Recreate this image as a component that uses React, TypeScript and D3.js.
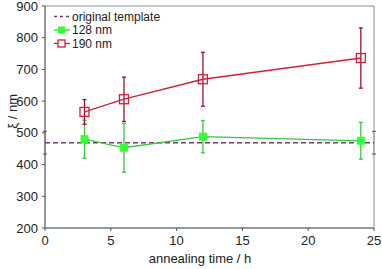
import React from 'react';
import * as d3 from 'd3';

// annealing time (h)
const times = [3, 6, 12, 24];
const mean128 = [480, 453, 488, 475];
const err128 = [60, 77, 51, 58];
const mean190 = [566, 606, 669, 736];
const err190 = [39, 70, 85, 95];
const templateMean = 469;
const templateErr = 36;

const xTicks = [0, 5, 10, 15, 20, 25];
const yTicks = [200, 300, 400, 500, 600, 700, 800, 900];

const W = 382;
const H = 269;
const margin = { top: 6, right: 8, bottom: 41, left: 45 };

const green = '#39c83c';
const greenFill = '#33ff33';
const red = '#d0203c';
const redDark = '#a0102c';
const purple = '#7a3a70';
const font = 'Liberation Sans, Arial, sans-serif';

const App = () => {
  const x = d3.scaleLinear().domain([0, 25]).range([margin.left, W - margin.right]);
  const y = d3.scaleLinear().domain([200, 900]).range([H - margin.bottom, margin.top]);
  const line = d3.line<[number, number]>().x((d) => x(d[0])).y((d) => y(d[1]));

  const errBars = (means: number[], errs: number[], color: string) =>
    times.map((t, i) => {
      const cx = x(t);
      const top = y(means[i] + errs[i]);
      const bot = y(means[i] - errs[i]);
      return (
        <g key={i} stroke={color} strokeWidth={1.3}>
          <line x1={cx} x2={cx} y1={top} y2={bot} />
          <line x1={cx - 2} x2={cx + 2} y1={top} y2={top} />
          <line x1={cx - 2} x2={cx + 2} y1={bot} y2={bot} />
        </g>
      );
    });

  const [x0, x1] = x.range();
  const [y0, y1] = y.range();

  const legendRows = [
    { label: 'original template', y: 16.5 },
    { label: '128 nm', y: 30 },
    { label: '190 nm', y: 43.5 },
  ];

  return (
    <svg width={W} height={H} style={{ position: 'absolute', left: 0, top: 0, background: '#fff' }} fontFamily={font}>
      {/* frame */}
      <rect x={x0} y={y1} width={x1 - x0} height={y0 - y1} fill="none" stroke="#9aa8a8" strokeWidth={1.2} />
      <line x1={x0} x2={x0} y1={y1} y2={y0} stroke="#7f8c8c" strokeWidth={1.5} />
      <line x1={x0} x2={x1} y1={y0} y2={y0} stroke="#7f8c8c" strokeWidth={1.5} />

      {/* ticks */}
      {yTicks.map((v) => (
        <g key={v}>
          <line x1={x0 - 3} x2={x0} y1={y(v)} y2={y(v)} stroke="#555" />
          <text x={x0 - 7} y={y(v)} dy="0.35em" textAnchor="end" fontSize={13} fill="#222">{v}</text>
        </g>
      ))}
      {xTicks.map((v) => (
        <g key={v}>
          <line x1={x(v)} x2={x(v)} y1={y0} y2={y0 + 3} stroke="#555" />
          <text x={x(v)} y={y0 + 17} textAnchor="middle" fontSize={13} fill="#222">{v}</text>
        </g>
      ))}

      <text x={200} y={H - 6} textAnchor="middle" fontSize={13} fill="#222">annealing time / h</text>
      <text transform={`translate(17, ${y(568)}) rotate(-90)`} textAnchor="middle" fontSize={13} fill="#222">ξ / nm</text>

      {/* original template */}
      <line x1={x0} x2={x1} y1={y(templateMean)} y2={y(templateMean)} stroke={purple} strokeWidth={1.5} strokeDasharray="5,3" />
      {[0, 25].map((t) => (
        <g key={t} stroke={purple} strokeWidth={1}>
          <line x1={x(t)} x2={x(t)} y1={y(templateMean + templateErr)} y2={y(templateMean - templateErr)} strokeOpacity={0.4} />
          <line x1={x(t) - 2} x2={x(t) + 2} y1={y(templateMean + templateErr)} y2={y(templateMean + templateErr)} />
          <line x1={x(t) - 2} x2={x(t) + 2} y1={y(templateMean - templateErr)} y2={y(templateMean - templateErr)} />
        </g>
      ))}

      {/* 128 nm */}
      {errBars(mean128, err128, green)}
      <path d={line(times.map((t, i) => [t, mean128[i]]) as [number, number][]) || ''} fill="none" stroke={green} strokeWidth={1.3} />
      {times.map((t, i) => (
        <rect key={i} x={x(t) - 4} y={y(mean128[i]) - 4} width={8} height={8} fill={greenFill} />
      ))}

      {/* 190 nm */}
      {errBars(mean190, err190, redDark)}
      <path d={line(times.map((t, i) => [t, mean190[i]]) as [number, number][]) || ''} fill="none" stroke={red} strokeWidth={1.3} />
      {times.map((t, i) => (
        <rect key={i} x={x(t) - 4.5} y={y(mean190[i]) - 4.5} width={9} height={9} fill="none" stroke={red} strokeWidth={1.3} />
      ))}

      {/* legend */}
      <g fontSize={12} fill="#222">
        <line x1={54} x2={70} y1={legendRows[0].y} y2={legendRows[0].y} stroke={purple} strokeWidth={1.5} strokeDasharray="3,3" />
        <line x1={54} x2={70} y1={legendRows[1].y} y2={legendRows[1].y} stroke={green} strokeWidth={1.3} />
        <rect x={58} y={legendRows[1].y - 3.5} width={7} height={7} fill={greenFill} />
        <line x1={54} x2={70} y1={legendRows[2].y} y2={legendRows[2].y} stroke={red} strokeWidth={1.3} />
        <rect x={58} y={legendRows[2].y - 3.5} width={7} height={7} fill="#fff" stroke={red} strokeWidth={1.3} />
        {legendRows.map((r) => (
          <text key={r.label} x={72} y={r.y} dy="0.35em">{r.label}</text>
        ))}
      </g>
    </svg>
  );
};

export default App;
